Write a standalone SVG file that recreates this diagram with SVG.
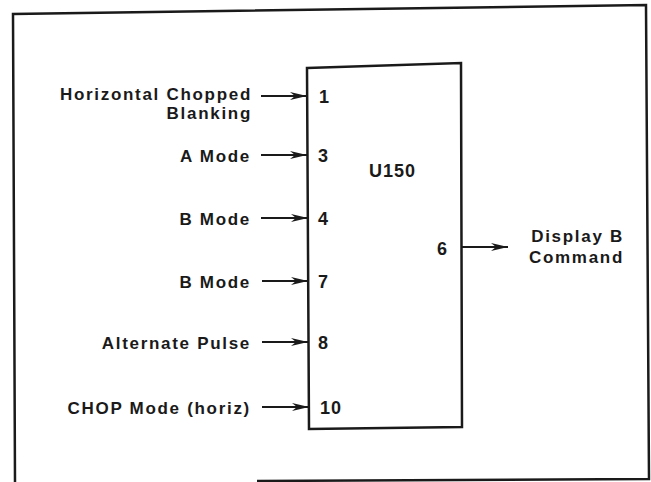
<svg xmlns="http://www.w3.org/2000/svg" width="651" height="482" viewBox="0 0 651 482">
<style>
.t{font-family:"Liberation Sans",Arial,sans-serif;font-weight:bold;font-size:17px;letter-spacing:1.7px;fill:#1a1a1a}
.n{font-size:18px;letter-spacing:1px}
.e{text-anchor:end}
.ln{stroke:#1a1a1a;stroke-width:2;fill:none}
.fr{stroke:#1a1a1a;stroke-width:2.5;fill:none}
</style>
<defs>
<marker id="ah" markerWidth="18" markerHeight="10" refX="17" refY="5" orient="auto" markerUnits="userSpaceOnUse">
<path d="M0,1 L17,5 L0,9 L5,5 Z" fill="#1a1a1a"/>
</marker>
</defs>
<rect width="651" height="482" fill="#fff"/>
<path class="fr" d="M257,481 L649,479 L646,5 L13,14 L15,482"/>
<g id="u150">
<path class="fr" d="M307,68 L461,63 L462,427 L309,429 Z"/>
<text class="t n" x="369" y="177">U150</text>
<text class="t n" x="319" y="103">1</text>
<text class="t n" x="318" y="162">3</text>
<text class="t n" x="318" y="225">4</text>
<text class="t n" x="318" y="288">7</text>
<text class="t n" x="318" y="349">8</text>
<text class="t n" x="320" y="414">10</text>
<text class="t n" x="437" y="255">6</text>
</g>
<g id="in1"><text class="t e" x="252" y="99.5">Horizontal Chopped</text><text class="t e" x="252" y="119">Blanking</text></g>
<g id="in3"><text class="t e" x="251" y="162">A Mode</text></g>
<g id="in4"><text class="t e" x="251" y="225">B Mode</text></g>
<g id="in7"><text class="t e" x="251" y="288">B Mode</text></g>
<g id="in8"><text class="t e" x="251" y="349">Alternate Pulse</text></g>
<g id="in10"><text class="t e" x="251" y="414">CHOP Mode (horiz)</text></g>
<g id="out6"><text class="t e" x="624" y="242">Display B</text><text class="t e" x="624" y="263">Command</text></g>
<g id="connectors">
<line class="ln" x1="261" y1="96" x2="307" y2="96" marker-end="url(#ah)"/>
<line class="ln" x1="261" y1="155" x2="307" y2="155" marker-end="url(#ah)"/>
<line class="ln" x1="261" y1="218" x2="308" y2="218" marker-end="url(#ah)"/>
<line class="ln" x1="262" y1="281" x2="308" y2="281" marker-end="url(#ah)"/>
<line class="ln" x1="262" y1="342" x2="308" y2="342" marker-end="url(#ah)"/>
<line class="ln" x1="262" y1="407" x2="309" y2="407" marker-end="url(#ah)"/>
<line class="ln" x1="462" y1="247" x2="508" y2="247" marker-end="url(#ah)"/>
</g>
</svg>
